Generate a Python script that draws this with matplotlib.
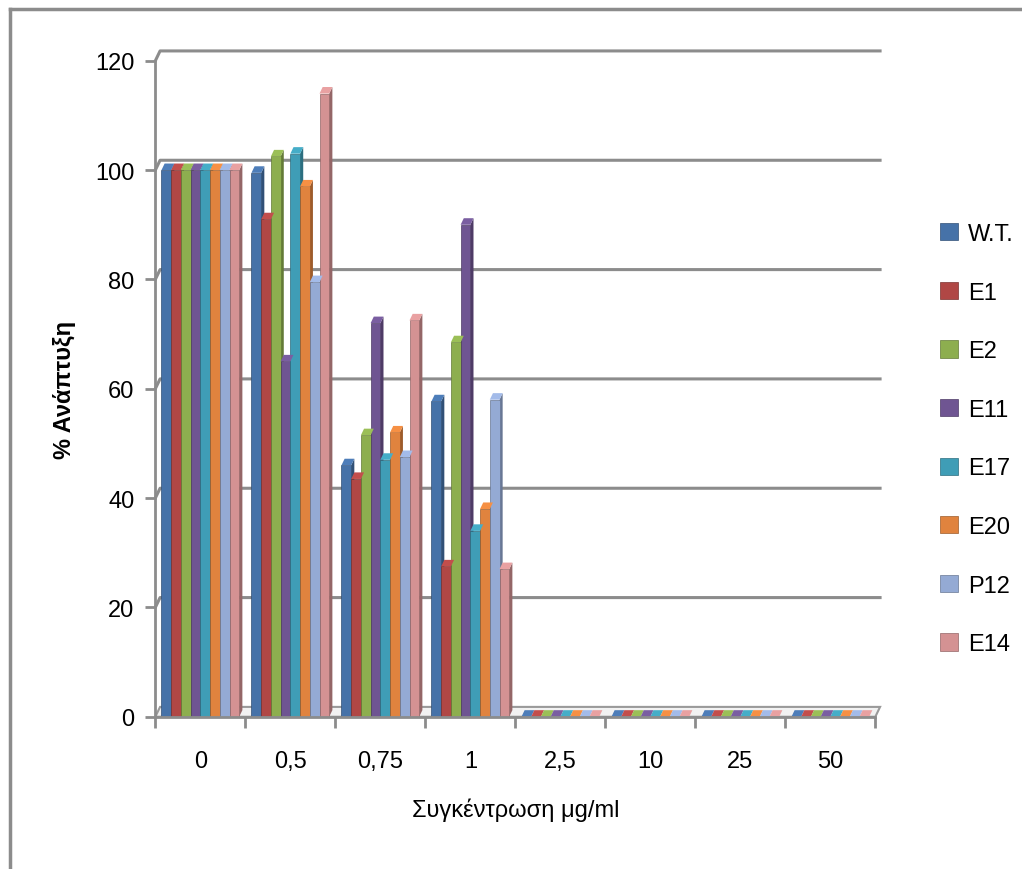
import numpy as np
import matplotlib.pyplot as plt
from matplotlib.patches import Polygon
from matplotlib.colors import to_rgb

plt.rcParams['font.family'] = ['Liberation Sans', 'DejaVu Sans']

# Datos
concentraciones = ['0', '0,5', '0,75', '1', '2,5', '10', '25', '50']
cepas = ['W.T.', 'E1', 'E2', 'E11', 'E17', 'E20', 'P12', 'E14']
wt  = [100, 99.5, 46.0, 57.7, 0, 0, 0, 0]
e1  = [100, 91.0, 43.5, 27.5, 0, 0, 0, 0]
e2  = [100, 102.5, 51.5, 68.5, 0, 0, 0, 0]
e11 = [100, 65.0, 72.0, 90.0, 0, 0, 0, 0]
e17 = [100, 103.0, 47.0, 34.0, 0, 0, 0, 0]
e20 = [100, 97.0, 52.0, 38.0, 0, 0, 0, 0]
p12 = [100, 79.5, 47.5, 58.0, 0, 0, 0, 0]
e14 = [100, 114.0, 72.5, 27.0, 0, 0, 0, 0]
series = [wt, e1, e2, e11, e17, e20, p12, e14]
colores = ['#4672A8', '#B04745', '#8DAE4F', '#6F5592', '#3F9DB6', '#E0833E', '#94AAD4', '#D49293']

fig = plt.figure(figsize=(10.22, 8.7), dpi=100)
ax = fig.add_axes([0.152, 0.175, 0.7045, 0.754])

n = len(cepas)
ancho = 0.108
dx, dy = 0.035, 1.2   # profundidad del efecto 3D
x = np.arange(len(concentraciones))
gris = '#8c8c8c'

# rejilla en la pared del fondo
for v in range(20, 121, 20):
    ax.plot([-0.5, -0.5 + dx * 1.5, 7.5 + dx * 1.5], [v, v + dy * 1.5, v + dy * 1.5],
            color=gris, lw=2.2, zorder=0, clip_on=False)
# suelo
ax.add_patch(Polygon([(-0.5, 0), (7.5, 0), (7.5 + dx * 1.5, dy * 1.5), (-0.5 + dx * 1.5, dy * 1.5)],
                     closed=True, facecolor='#f2f2f2', edgecolor='#9a9a9a', lw=1.5, zorder=0.5,
                     clip_on=False))

for i, (vals, c) in enumerate(zip(series, colores)):
    pos = x - ancho * n / 2 + ancho * (i + 0.5)
    rgb = np.array(to_rgb(c))
    oscuro = rgb * 0.7
    claro = np.clip(rgb * 1.1, 0, 1)
    ax.bar(pos, vals, width=ancho, color=c, edgecolor=oscuro, lw=0.5, zorder=2 + i * 0.01, label=cepas[i])
    for px, v in zip(pos, vals):
        der = px + ancho / 2
        izq = px - ancho / 2
        ax.add_patch(Polygon([(der, 0), (der + dx, dy), (der + dx, v + dy), (der, v)],
                             closed=True, facecolor=oscuro, edgecolor='none', zorder=1.9 + i * 0.01))
        ax.add_patch(Polygon([(izq, v), (der, v), (der + dx, v + dy), (izq + dx, v + dy)],
                             closed=True, facecolor=claro, edgecolor='none', zorder=2.05 + i * 0.01))

ax.set_xlim(-0.5, 7.5)
ax.set_ylim(0, 120)
ax.set_yticks(range(0, 121, 20))
ax.set_xticks(x)
ax.set_xticklabels(concentraciones)
ax.set_xticks(np.arange(-0.5, 8, 1), minor=True)
ax.tick_params(axis='x', which='major', length=0, labelsize=17, pad=24)
ax.tick_params(axis='x', which='minor', length=8, color=gris, width=2)
ax.tick_params(axis='y', length=7, color=gris, width=2, labelsize=17, pad=8)
for s in ['top', 'right']:
    ax.spines[s].set_visible(False)
for s in ['left', 'bottom']:
    ax.spines[s].set_color(gris)
    ax.spines[s].set_linewidth(2)

ax.set_xlabel('Συγκέντρωση μg/ml', fontsize=17, labelpad=18)
ax.set_ylabel('% Ανάπτυξη', fontsize=17, fontweight='bold', labelpad=14)

ax.legend(loc='upper left', bbox_to_anchor=(1.06, 0.785), frameon=False, fontsize=17,
          handlelength=0.75, handleheight=0.75, handletextpad=0.45, labelspacing=1.55)

# marco del gráfico
fig.add_artist(plt.Line2D([0.01, 1.0], [0.989, 0.989], color=gris, lw=2.5))
fig.add_artist(plt.Line2D([0.01, 0.01], [0.0, 0.989], color=gris, lw=2.5))

fig.savefig('out.png', dpi=100)
